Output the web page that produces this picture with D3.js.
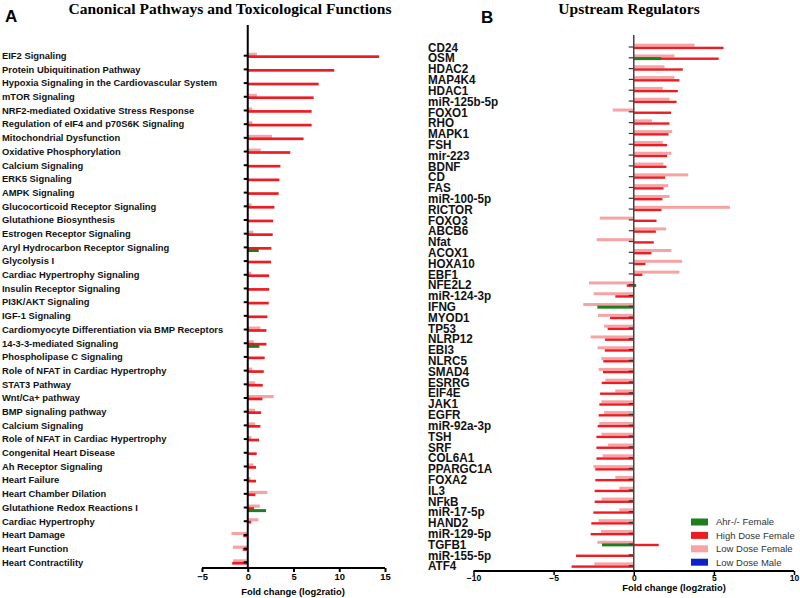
<!DOCTYPE html>
<html><head><meta charset="utf-8">
<script src="https://cdn.jsdelivr.net/npm/d3@7"></script>
<style>body{margin:0;background:#fff}svg{display:block}</style>
</head><body>
<svg id="chart" width="800" height="598"></svg>
<script>
// ---------- data ----------
const leftCategories = ["EIF2 Signaling","Protein Ubiquitination Pathway","Hypoxia Signaling in the Cardiovascular System","mTOR Signaling","NRF2-mediated Oxidative Stress Response","Regulation of eIF4 and p70S6K Signaling","Mitochondrial Dysfunction","Oxidative Phosphorylation","Calcium Signaling","ERK5 Signaling","AMPK Signaling","Glucocorticoid Receptor Signaling","Glutathione Biosynthesis","Estrogen Receptor Signaling","Aryl Hydrocarbon Receptor Signaling","Glycolysis I","Cardiac Hypertrophy Signaling","Insulin Receptor Signaling","PI3K/AKT Signaling","IGF-1 Signaling","Cardiomyocyte Differentiation via BMP Receptors","14-3-3-mediated Signaling","Phospholipase C Signaling","Role of NFAT in Cardiac Hypertrophy","STAT3 Pathway","Wnt/Ca+ pathway","BMP signaling pathway","Calcium Signaling","Role of NFAT in Cardiac Hypertrophy","Congenital Heart Disease","Ah Receptor Signaling","Heart Failure","Heart Chamber Dilation","Glutathione Redox Reactions I","Cardiac Hypertrophy","Heart Damage","Heart Function","Heart Contractility"];
const leftHighDoseFemale = [14.36,9.45,7.75,7.2,6.98,6.98,6.1,4.65,3.57,3.46,3.38,2.91,2.77,2.73,2.58,2.55,2.33,2.33,2.29,2.15,2.04,2.04,1.85,1.75,1.64,1.6,1.46,1.38,1.24,0.98,0.9,0.9,0.84,0.68,0.37,-0.5,-0.55,-1.7];
const leftLowDoseFemale  = [1.0,0,0,1.0,0.5,0.5,2.66,1.42,0,0,0,0.4,0,0.6,0,0,0.4,0,0,0,1.38,0.65,0,0.5,0.8,2.84,0.8,0.8,0.4,0,0.62,0.3,2.15,1.31,1.17,-1.78,-1.63,-1.6];
const leftAhrFemale      = [0,0,0,0,0,0,0,0,0,0,0,0,0,0,1.2,0,0,0,0,0,0,1.27,0,0,0,0,0,0,0,0,0,0,0,2.0,0,0,0,0];
const leftTicks = [-5,0,5,10,15];

const rightCategories = ["CD24","OSM","HDAC2","MAP4K4","HDAC1","miR-125b-5p","FOXO1","RHO","MAPK1","FSH","mir-223","BDNF","CD","FAS","miR-100-5p","RICTOR","FOXO3","ABCB6","Nfat","ACOX1","HOXA10","EBF1","NFE2L2","miR-124-3p","IFNG","MYOD1","TP53","NLRP12","EBI3","NLRC5","SMAD4","ESRRG","EIF4E","JAK1","EGFR","miR-92a-3p","TSH","SRF","COL6A1","PPARGC1A","FOXA2","IL3","NFkB","miR-17-5p","HAND2","miR-129-5p","TGFB1","miR-155-5p","ATF4"];
const rightHighDoseFemale = [5.6,5.3,3.06,2.85,2.75,2.67,2.33,2.23,2.17,2.08,2.08,2.04,1.96,1.86,1.79,1.73,1.42,1.38,1.25,1.1,0.73,0.54,-0.44,-1.15,0,-1.48,-1.63,-1.79,-1.81,-1.9,-1.92,-2.0,-2.1,-2.15,-2.19,-2.25,-2.33,-2.33,-2.33,-2.4,-2.4,-2.44,-2.44,-2.52,-2.65,-2.69,1.56,-3.6,-3.88];
const rightLowDoseFemale  = [3.79,2.54,1.92,2.54,1.81,2.23,-1.31,1.13,2.4,1.81,2.35,1.85,3.4,2.15,2.23,6.0,-2.12,2.02,-2.31,2.35,3.02,2.85,-2.79,-2.5,-3.15,-2.23,-1.85,-2.69,-2.25,-2.02,-2.19,-1.77,-1.15,-2.02,-1.85,-2.15,-2.02,-1.6,-1.94,-2.52,-1.15,-0.9,-2.0,-0.9,-2.19,-2.04,-2.27,0,-2.46];
const rightAhrFemale      = [0,1.71,0,0,0,0,0,0,0,0,0,0,0,0,0,0,0,0,0,0,0,0,0.15,0,-2.27,0,0,0,0,0,0,0,0,0,0,0,0,0,0,0,0,0,0,0,0,0,-1.98,0,0];
const rightTicks = [-10,-5,0,5,10];

const legendNames = ["Ahr-/- Female","High Dose Female","Low Dose Female","Low Dose Male"];
const legendColors = ["#1f7d1f","#ee1c22","#f5a3a5","#0a22c8"];
const C = {ahr:legendColors[0], high:legendColors[1], low:legendColors[2]};

const svg = d3.select("#chart");
const sansBold = "'Liberation Sans', Arial, sans-serif";

// ---------- titles ----------
svg.append("text").attr("x",230).attr("y",14).attr("text-anchor","middle")
  .attr("font-family","'Liberation Serif','Times New Roman',serif").attr("font-weight","bold")
  .attr("font-size",15.5).text("Canonical Pathways and Toxicological Functions");
svg.append("text").attr("x",629).attr("y",14).attr("text-anchor","middle")
  .attr("font-family","'Liberation Serif','Times New Roman',serif").attr("font-weight","bold")
  .attr("font-size",15.5).text("Upstream Regulators");
svg.append("text").attr("x",5).attr("y",22).attr("font-family",sansBold).attr("font-weight","bold")
  .attr("font-size",17).text("A");
svg.append("text").attr("x",481).attr("y",23).attr("font-family",sansBold).attr("font-weight","bold")
  .attr("font-size",17).text("B");

// ---------- panel A ----------
const xA = d3.scaleLinear().domain([-5,15]).range([202,385]);
const yA = d3.scalePoint().domain(d3.range(leftCategories.length)).range([55.7,562.3]);
const gA = svg.append("g");

function barsA(vals, color, y0, h){
  gA.append("g").selectAll("rect").data(vals).join("rect")
    .attr("x",d=>xA(Math.min(0,d))).attr("width",d=>Math.abs(xA(d)-xA(0)))
    .attr("y",(d,i)=>yA(i)+y0).attr("height",h).attr("fill",color);
}
barsA(leftLowDoseFemale, C.low, -3, 3.2);
barsA(leftHighDoseFemale, C.high, -0.4, 2.7);
barsA(leftAhrFemale, C.ahr, 1.6, 3);

// y ticks & labels
gA.append("g").selectAll("line").data(leftCategories).join("line")
  .attr("x1",xA(0)-4).attr("x2",xA(0)).attr("y1",(d,i)=>yA(i)).attr("y2",(d,i)=>yA(i))
  .attr("stroke","#000").attr("stroke-width",2);
gA.append("g").selectAll("text").data(leftCategories).join("text")
  .attr("x",2).attr("y",(d,i)=>yA(i)).attr("dy","0.35em")
  .attr("font-family",sansBold).attr("font-weight","bold").attr("font-size",9.4).attr("fill","#111")
  .text(d=>d);
gA.append("line").attr("x1",xA(0)).attr("x2",xA(0)).attr("y1",25).attr("y2",568)
  .attr("stroke","#000").attr("stroke-width",2);

const axA = gA.append("g").attr("transform","translate(0,568)")
  .call(d3.axisBottom(xA).tickValues(leftTicks).tickSize(4).tickFormat(d3.format("d")));
axA.select(".domain").attr("stroke","#000").attr("stroke-width",2).attr("d","M202,0H385");
axA.selectAll(".tick line").attr("stroke","#000").attr("stroke-width",2);
axA.selectAll(".tick text").attr("font-family",sansBold).attr("font-weight","bold").attr("font-size",9.4).attr("dy","0.5em").attr("fill","#000");
svg.append("text").attr("x",293).attr("y",595).attr("text-anchor","middle")
  .attr("font-family",sansBold).attr("font-weight","bold").attr("font-size",9.4).text("Fold change (log2ratio)");

// ---------- panel B ----------
const xB = d3.scaleLinear().domain([-10,10]).range([473.5,794]);
const yB = d3.scalePoint().domain(d3.range(rightCategories.length)).range([47,565.7]);
const gB = svg.append("g");
function barsB(vals, color, y0, h){
  gB.append("g").selectAll("rect").data(vals).join("rect")
    .attr("x",d=>xB(Math.min(0,d))).attr("width",d=>Math.abs(xB(d)-xB(0)))
    .attr("y",(d,i)=>yB(i)+y0).attr("height",h).attr("fill",color);
}
barsB(rightLowDoseFemale, C.low, -3.3, 3);
barsB(rightHighDoseFemale, C.high, -0.3, 2.4);
barsB(rightAhrFemale, C.ahr, -0.7, 3);

gB.append("g").selectAll("line").data(rightCategories).join("line")
  .attr("x1",xB(0)-5).attr("x2",xB(0)).attr("y1",(d,i)=>yB(i)).attr("y2",(d,i)=>yB(i))
  .attr("stroke","#333").attr("stroke-width",1.2);
gB.append("g").selectAll("text").data(rightCategories).join("text")
  .attr("transform",(d,i)=>`translate(428,${yB(i)}) scale(0.9,1)`).attr("dy","0.36em")
  .attr("font-family",sansBold).attr("font-weight","bold").attr("font-size",13).attr("fill","#111")
  .text(d=>d);
gB.append("line").attr("x1",xB(0)).attr("x2",xB(0)).attr("y1",35).attr("y2",571)
  .attr("stroke","#444").attr("stroke-width",1.5);

const axB = gB.append("g").attr("transform","translate(0,571)")
  .call(d3.axisBottom(xB).tickValues(rightTicks).tickSize(4).tickFormat(d3.format("d")));
axB.select(".domain").attr("stroke","#000").attr("stroke-width",2).attr("d","M473.5,0H794");
axB.selectAll(".tick line").attr("stroke","#000").attr("stroke-width",1.5);
axB.selectAll(".tick text").attr("font-family",sansBold).attr("font-weight","bold").attr("font-size",8.5).attr("dy","0.3em").attr("fill","#000");
svg.append("text").attr("x",674).attr("y",591).attr("text-anchor","middle")
  .attr("font-family",sansBold).attr("font-weight","bold").attr("font-size",9.4).text("Fold change (log2ratio)");

// ---------- legend ----------
const leg = svg.append("g").selectAll("g").data(legendNames).join("g")
  .attr("transform",(d,i)=>`translate(691,${522+i*13.4})`);
leg.append("rect").attr("x",0).attr("y",-3.5).attr("width",17).attr("height",7).attr("fill",(d,i)=>legendColors[i]);
leg.append("text").attr("x",25).attr("y",0).attr("dy","0.35em").attr("font-family",sansBold)
  .attr("font-size",9.5).attr("fill","#333").text(d=>d);
</script>
</body></html>
